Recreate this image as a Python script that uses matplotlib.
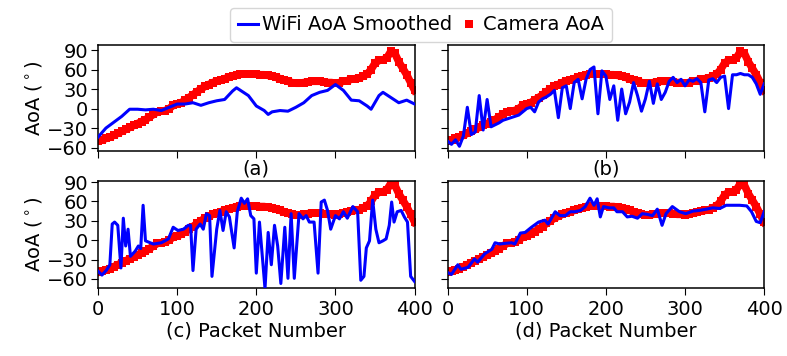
import matplotlib
matplotlib.use("Agg")
import matplotlib.pyplot as plt

# Camera AoA (ground truth), one reading every 5 packets
cam_pkt = list(range(0, 401, 5))
cam_aoa = [-50, -48, -46, -44, -41, -38, -35, -32, -29, -26,
           -23, -20, -17, -13, -9, -5, -4, -3, 0, 5,
           7, 9, 13, 17, 21, 26, 30, 34, 37, 40,
           42, 44, 46, 48, 50, 52, 53, 53, 53, 53,
           53, 52, 52, 51, 50, 48, 46, 44, 42, 40,
           39, 39, 40, 41, 42, 42, 42, 41, 40, 40,
           39, 40, 42, 43, 45, 46, 47, 50, 53, 60,
           70, 74, 75, 78, 88, 85, 72, 62, 52, 40,
           28]

# (a) WiFi AoA smoothed
pkt_a = [0, 10, 20, 30, 40, 50, 60, 70, 80, 90, 100, 110, 120, 130, 140, 150,
         160, 170, 175, 180, 190, 200, 210, 215, 220, 230, 240, 250, 260, 270,
         280, 290, 300, 310, 320, 330, 340, 345, 355, 360, 370, 380, 390, 400]
wifi_a = [-44, -30, -21, -12, -1, -1, -2, -1, -3, 2, 7, 7, 9, 5, 9, 12,
          14, 27, 32, 28, 20, 4, -3, -9, -5, -3, -4, 2, 9, 20,
          25, 28, 37, 28, 13, 12, 4, -1, 20, 25, 17, 9, 13, 7]

# (b) WiFi AoA, one reading every 5 packets
pkt_b = list(range(0, 401, 5))
wifi_b = [-50, -55, -48, -58, -42, 2, -40, -36, 20, -33,
          14, -28, -25, -22, -18, -16, -14, -12, -10, -5,
          0, 2, -5, 10, 15, 18, 22, 28, -14, 32,
          35, 0, 40, 45, 15, 45, 60, 64, -8, 58,
          50, 14, 35, -18, 30, -8, 10, 40, 20, -4,
          15, 42, 8, 38, 14, 25, 42, 48, 40, 45,
          35, 44, 42, 46, 40, -5, 44, 46, 40, 48,
          50, 0, 52, 52, 54, 52, 52, 48, 38, 22,
          38]

# (c) WiFi AoA
pkt_c = [0, 5, 11, 15, 18, 21, 25, 29, 32, 35, 38, 41, 47, 51, 54, 57, 60,
         70, 80, 89, 95, 101, 108, 114, 117, 120, 124, 129, 133, 137, 141,
         144, 150, 154, 158, 162, 166, 172, 176, 181, 185, 189, 193, 197,
         200, 204, 211, 215, 219, 223, 227, 231, 236, 240, 244, 248, 254,
         259, 263, 267, 273, 278, 282, 286, 290, 294, 300, 305, 310, 315,
         322, 328, 332, 336, 339, 343, 347, 351, 355, 360, 364, 368, 371,
         374, 378, 383, 387, 391, 395, 400]
wifi_c = [-48, -54, -46, -38, 25, 28, 23, -43, 34, -9, 17, -25, -17, -9,
          -13, 54, -1, -6, -4, 2, 20, 15, 17, 23, 23, -47, 17, 25, 17, 41,
          38, -56, 17, 46, 15, 44, 36, -12, 44, 65, 57, 64, 38, 33,
          -51, 28, -75, 12, -38, 23, -9, -67, 20, -59, 41, -59, 41,
          33, 38, 28, 28, -51, 59, 62, 46, 17, 38, 33, 44, 34,
          52, 44, -62, -56, -12, -1, 62, 17, -4, -1, 2, 23, 59,
          28, 44, 46, 36, 28, -56, -64]

# (d) WiFi AoA
pkt_d = [0, 5, 13, 17, 26, 34, 38, 47, 56, 60, 66, 72, 81, 85, 92, 98, 106,
         115, 123, 127, 136, 142, 149, 155, 161, 168, 174, 180, 185, 189,
         193, 197, 204, 210, 214, 221, 227, 233, 240, 246, 252, 259, 265,
         271, 276, 284, 293, 301, 310, 318, 327, 335, 344, 352, 361, 369,
         378, 384, 390, 395, 400]
wifi_d = [-50, -53, -38, -45, -42, -29, -34, -21, -14, -4, -6, -5, -4, -6,
          11, 12, 20, 28, 31, 25, 44, 38, 38, 44, 44, 46, 52, 65, 54, 64,
          36, 52, 50, 50, 44, 44, 36, 37, 34, 41, 40, 38, 48, 23, 41, 52,
          44, 41, 45, 46, 48, 50, 49, 54, 54, 54, 53, 44, 29, 27, 44]

panels = [
    (pkt_a, wifi_a, "(a)"),
    (pkt_b, wifi_b, "(b)"),
    (pkt_c, wifi_c, "(c) Packet Number"),
    (pkt_d, wifi_d, "(d) Packet Number"),
]

plt.rcParams["font.family"] = ["DejaVu Sans"]

fig, axes = plt.subplots(2, 2, figsize=(7.87, 3.56), dpi=100)
fig.subplots_adjust(left=0.1245, right=0.971, top=0.874, bottom=0.191,
                    wspace=0.104, hspace=0.28)

for i, (ax, (pkt, wifi, label)) in enumerate(zip(axes.flat, panels)):
    # thick band underneath, square markers on top (the legend uses the squares)
    ax.plot(cam_pkt, cam_aoa, color="red", linewidth=5.5, zorder=2)
    ax.plot(cam_pkt, cam_aoa, "s", color="red", markersize=5.5,
            markeredgewidth=0, label="Camera AoA", zorder=2)
    ax.plot(pkt, wifi, color="blue", linewidth=2.2, label="WiFi AoA Smoothed",
            zorder=3)
    ax.set_xlim(0, 400)
    if i < 2:
        ax.set_ylim(-66, 98)
        ax.tick_params(axis="x", labelbottom=False)
        ax.set_xlabel(label, fontsize=14, labelpad=1)
    else:
        ax.set_ylim(-74, 91)
        ax.set_xlabel(label, fontsize=14, labelpad=2)
    ax.set_xticks([0, 100, 200, 300, 400])
    ax.set_yticks([-60, -30, 0, 30, 60, 90])
    ax.tick_params(labelsize=14, length=5)
    ax.tick_params(axis="y", pad=2)
    if i % 2 == 0:
        ax.set_ylabel(r"AoA ($^\circ$)", fontsize=14, labelpad=2)
    else:
        ax.tick_params(axis="y", labelleft=False)
    for s in ax.spines.values():
        s.set_linewidth(1.1)

handles, labels = axes[0, 0].get_legend_handles_labels()
fig.legend(handles[::-1], labels[::-1], loc="center",
           bbox_to_anchor=(0.535, 0.93), ncol=2, fontsize=14,
           handlelength=1.0, handletextpad=0.2, columnspacing=0.4)

fig.savefig("out.png", dpi=100)
